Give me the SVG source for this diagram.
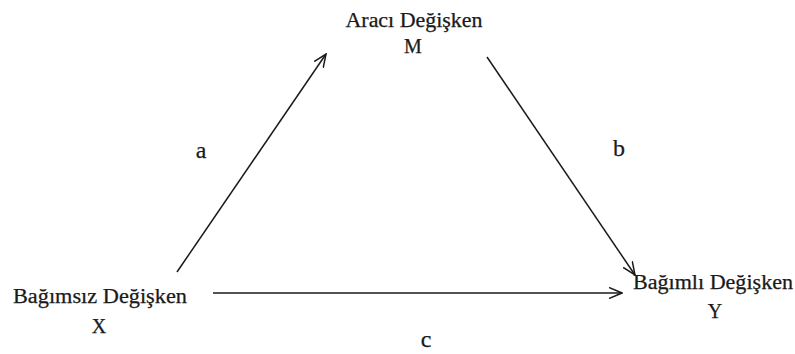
<svg xmlns="http://www.w3.org/2000/svg" width="795" height="354" viewBox="0 0 795 354">
<style>
text{font-family:"Liberation Serif","DejaVu Serif",serif;font-size:20px;fill:#1a1a1a;stroke:#1a1a1a;stroke-width:0.25;text-anchor:middle}
.lbl{font-size:24px}
.c{stroke:#1a1a1a;stroke-width:1.5;fill:none}
</style>
<defs>
<marker id="ah" viewBox="0 0 14 12" refX="13" refY="6" markerWidth="14" markerHeight="12" markerUnits="userSpaceOnUse" orient="auto">
<polyline points="0,0.5 13,6 0,11.5" fill="none" stroke="#1a1a1a" stroke-width="1.5"/>
</marker>
</defs>
<rect width="795" height="354" fill="#fff"/>
<g id="connectors">
<line class="c" x1="177" y1="272" x2="326" y2="54" marker-end="url(#ah)"/>
<line class="c" x1="487" y1="57" x2="635" y2="275" marker-end="url(#ah)"/>
<line class="c" x1="213" y1="293" x2="622" y2="293" marker-end="url(#ah)"/>
<text class="lbl" x="201" y="158">a</text>
<text class="lbl" x="619" y="156">b</text>
<text class="lbl" x="426" y="347">c</text>
</g>
<g id="node-m">
<text x="414" y="27" textLength="137" lengthAdjust="spacingAndGlyphs">Aracı Değişken</text>
<text x="413" y="53">M</text>
</g>
<g id="node-x">
<text x="100" y="303" textLength="174" lengthAdjust="spacingAndGlyphs">Bağımsız Değişken</text>
<text x="99" y="333">X</text>
</g>
<g id="node-y">
<text x="713" y="289" textLength="160" lengthAdjust="spacingAndGlyphs">Bağımlı Değişken</text>
<text x="715" y="318">Y</text>
</g>
</svg>
